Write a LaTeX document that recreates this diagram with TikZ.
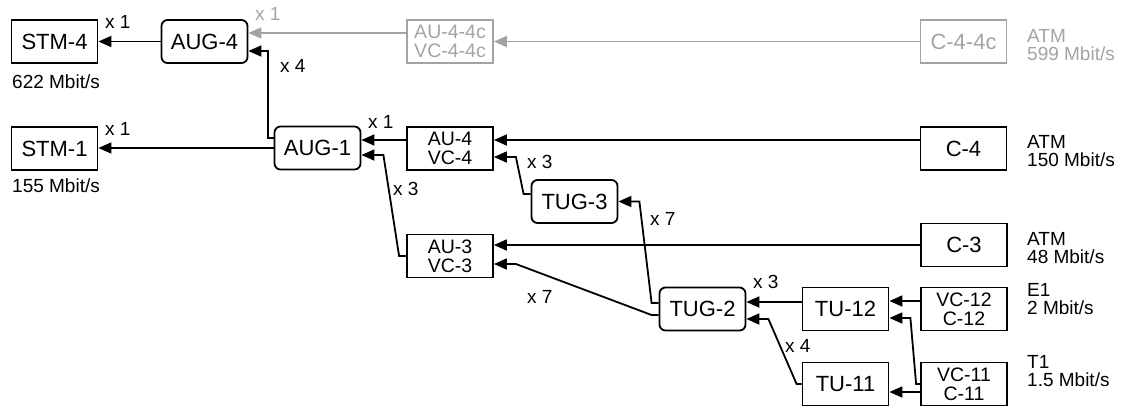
\documentclass[tikz,border=0pt]{standalone}
\usepackage{fontspec}
\setmainfont{Liberation Sans}
\usetikzlibrary{arrows.meta}
\definecolor{lightgr}{RGB}{163,163,163}
\begin{document}
\begin{tikzpicture}[x=1pt,y=-1pt,
  box/.style={draw, line width=1.8pt, minimum width=86pt, minimum height=43pt, inner sep=0pt, font=\fontsize{22}{24}\selectfont},
  box2/.style={box, align=center, font=\fontsize{19.5}{19}\selectfont},
  rbox/.style={box, rounded corners=6pt},
  faint/.style={draw=lightgr, text=lightgr},
  arr/.style={line width=1.8pt, -{Triangle[length=13pt,width=11pt]}},
  mult/.style={anchor=base west, inner sep=0pt, font=\fontsize{19}{18}\selectfont},
  note/.style={anchor=base west, inner sep=0pt, align=left, font=\fontsize{19}{18}\selectfont}]
\useasboundingbox (0,0) rectangle (1121,408);

% nodes
\node[box]  (stm4) at (54.5,41.5) {STM-4};
\node[rbox] (aug4) at (204.5,41.5) {AUG-4};
\node[box2,faint] (au44c) at (450,41.5) {AU-4-4c\\VC-4-4c};
\node[box,faint] (c44c) at (963.5,41.5) {C-4-4c};

\node[box]  (stm1) at (54.5,148.5) {STM-1};
\node[rbox] (aug1) at (317.5,148) {AUG-1};
\node[box2] (au4) at (450,148.5) {AU-4\\VC-4};
\node[box]  (c4) at (963.5,148.5) {C-4};

\node[rbox] (tug3) at (574.5,201.5) {TUG-3};

\node[box2] (au3) at (450,256) {AU-3\\VC-3};
\node[box]  (c3) at (964,245) {C-3};

\node[rbox] (tug2) at (702.5,309) {TUG-2};
\node[box]  (tu12) at (845.5,309) {TU-12};
\node[box2] (vc12) at (964,309) {VC-12\\C-12};

\node[box]  (tu11) at (845.5,384) {TU-11};
\node[box2] (vc11) at (964,384) {VC-11\\C-11};

% connectors
\draw[arr] (aug4.west) -- (stm4.east);
\draw[arr,draw=lightgr,fill=lightgr] ([yshift=8.5pt]au44c.west) -- ([yshift=8.5pt]aug4.east);
\draw[arr,draw=lightgr,fill=lightgr] (c44c.west) -- (au44c.east);
\draw[arr] ([yshift=10pt]aug1.west) -- ++(-6,0) |- ([yshift=-9.5pt]aug4.east);
\draw[arr] (aug1.west) -- (aug1.west -| stm1.east);
\draw[arr] ([yshift=8.5pt]au4.west) -- ([yshift=8.5pt]au4.west -| aug1.east);
\draw[arr] (au3.west) -- ++(-7,0) -- ([xshift=22pt,yshift=-7pt]aug1.east) -- ([yshift=-7pt]aug1.east);
\draw[arr] ([yshift=8.5pt]c4.west) -- ([yshift=8.5pt]au4.east);
\draw[arr] ([yshift=7.5pt]tug3.west) -- ++(-7,0) -- ([xshift=22pt,yshift=-8.5pt]au4.east) -- ([yshift=-8.5pt]au4.east);
\draw[arr] ([yshift=6pt]tug2.west) -- ++(-7,0) -- ([xshift=21pt]tug3.east) -- (tug3.east);
\draw[arr] ([yshift=-6pt]tug2.west) -- ++(-7,0) -- ([xshift=22pt,yshift=-8pt]au3.east) -- ([yshift=-8pt]au3.east);
\draw[arr] (c3.west) -- (c3.west -| au3.east);
\draw[arr] ([yshift=7pt]tu12.west) -- ([yshift=7pt]tug2.east);
\draw[arr] (tu11.west) -- ++(-5,0) -- ([xshift=22pt,yshift=-10pt]tug2.east) -- ([yshift=-10pt]tug2.east);
\draw[arr] ([yshift=8pt]vc12.west) -- ([yshift=8pt]tu12.east);
\draw[arr] (vc11.west) -- ++(-4,0) -- ([xshift=21pt,yshift=-9pt]tu12.east) -- ([yshift=-9pt]tu12.east);
\draw[arr] ([yshift=-8pt]vc11.west) -- ([yshift=-8pt]tu11.east);

% multiplicity labels
\node[mult] (m1) at (105,28) {x 1};
\node[mult,text=lightgr] (m2) at (255,20) {x 1};
\node[mult] (m3) at (280,72) {x 4};
\node[mult] (m4) at (105,135) {x 1};
\node[mult] (m5) at (368,128) {x 1};
\node[mult] (m6) at (393,195) {x 3};
\node[mult] (m7) at (527,168) {x 3};
\node[mult] (m8) at (650,225) {x 7};
\node[mult] (m9) at (527,303) {x 7};
\node[mult] (m10) at (753,288) {x 3};
\node[mult] (m11) at (785,352) {x 4};

% rate notes (anchor = baseline of the last line)
\node[note] (n1) at (12,88) {622 Mbit/s};
\node[note] (n2) at (12,192) {155 Mbit/s};
\node[note,text=lightgr] (n3) at (1027,60) {ATM\\599 Mbit/s};
\node[note] (n4) at (1027,166) {ATM\\150 Mbit/s};
\node[note] (n5) at (1027,263) {ATM\\48 Mbit/s};
\node[note] (n6) at (1027,314) {E1\\2 Mbit/s};
\node[note] (n7) at (1027,386) {T1\\1.5 Mbit/s};
\end{tikzpicture}
\end{document}
